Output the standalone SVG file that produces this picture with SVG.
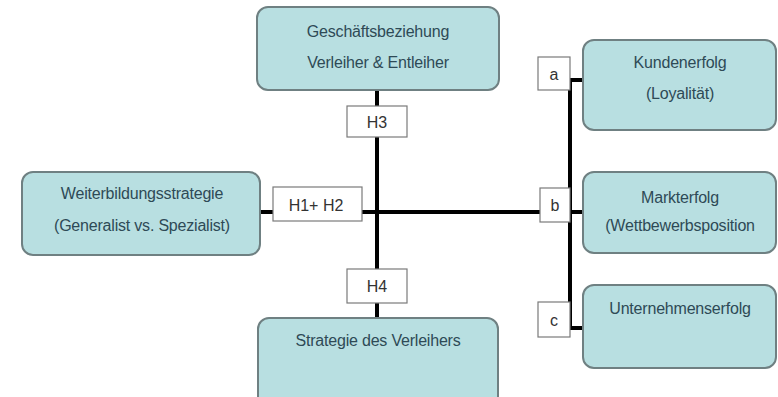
<svg xmlns="http://www.w3.org/2000/svg" width="778" height="397" viewBox="0 0 778 397">
<style>
.node{fill:#b8dfe1;stroke:#6f8082;stroke-width:2}
.lbl{fill:#fff;stroke:#7a7a7a;stroke-width:1.2}
.t{font-family:"Liberation Sans",Arial,sans-serif;font-size:16px;fill:#2e4a56;text-anchor:middle;dominant-baseline:central;letter-spacing:-0.2px}
.h{font-family:"Liberation Sans",Arial,sans-serif;font-size:16px;fill:#333;text-anchor:middle;dominant-baseline:central}
.c{stroke:#000;stroke-width:4;fill:none}
</style>
<rect width="778" height="397" fill="#fff"/>
<g id="connectors">
<line class="c" x1="377" y1="90" x2="377" y2="318"/>
<line class="c" x1="260" y1="212" x2="540" y2="212"/>
<line class="c" x1="570" y1="80" x2="570" y2="328"/>
<line class="c" x1="570" y1="80" x2="584" y2="80"/>
<line class="c" x1="570" y1="212" x2="584" y2="212"/>
<line class="c" x1="570" y1="328" x2="584" y2="328"/>
</g>
<g id="geschaeft">
<rect class="node" x="257" y="7" width="242" height="83" rx="11"/>
<text class="t" x="378" y="31">Geschäftsbeziehung</text>
<text class="t" x="378" y="62">Verleiher &amp; Entleiher</text>
</g>
<g id="weiterbildung">
<rect class="node" x="22" y="172" width="238" height="83" rx="11"/>
<text class="t" x="142" y="193">Weiterbildungsstrategie</text>
<text class="t" x="142" y="225">(Generalist vs. Spezialist)</text>
</g>
<g id="strategie">
<rect class="node" x="258" y="318" width="240" height="90" rx="11"/>
<text class="t" x="378" y="340">Strategie des Verleihers</text>
</g>
<g id="kunden">
<rect class="node" x="583" y="40" width="193" height="90" rx="11"/>
<text class="t" x="680" y="62">Kundenerfolg</text>
<text class="t" x="680" y="93">(Loyalität)</text>
</g>
<g id="markt">
<rect class="node" x="583" y="172" width="193" height="81" rx="11"/>
<text class="t" x="680" y="197">Markterfolg</text>
<text class="t" x="680" y="225">(Wettbewerbsposition</text>
</g>
<g id="unternehmen">
<rect class="node" x="583" y="285" width="193" height="83" rx="11"/>
<text class="t" x="680" y="308">Unternehmenserfolg</text>
</g>
<g id="h3">
<rect class="lbl" x="347" y="106" width="60" height="31"/>
<text class="h" x="377" y="122">H3</text>
</g>
<g id="h12">
<rect class="lbl" x="273" y="187" width="89" height="34"/>
<text class="h" x="316" y="205">H1+ H2</text>
</g>
<g id="h4">
<rect class="lbl" x="347" y="269" width="60" height="34"/>
<text class="h" x="377" y="286">H4</text>
</g>
<g id="la">
<rect class="lbl" x="538" y="57" width="32" height="33"/>
<text class="h" x="554" y="74">a</text>
</g>
<g id="lb">
<rect class="lbl" x="540" y="188" width="30" height="34"/>
<text class="h" x="555" y="205">b</text>
</g>
<g id="lc">
<rect class="lbl" x="538" y="302" width="32" height="35"/>
<text class="h" x="554" y="320">c</text>
</g>
</svg>
